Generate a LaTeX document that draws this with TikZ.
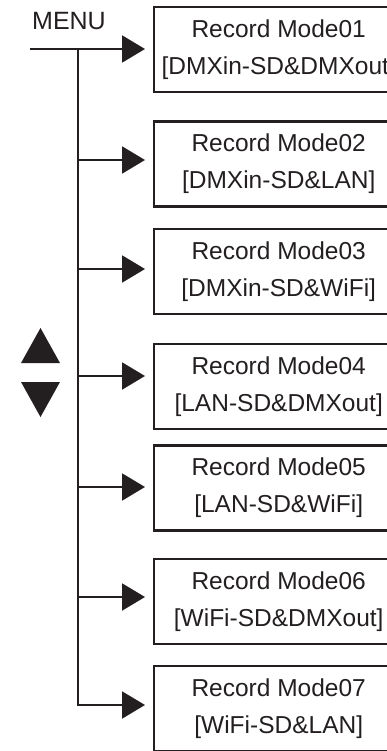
\documentclass[tikz,border=0pt]{standalone}
\usepackage{fontspec}
\setmainfont{Liberation Sans}
\usetikzlibrary{arrows.meta}
\definecolor{ink}{HTML}{231F20}

\begin{document}
\begin{tikzpicture}
        [
            x = 1pt, y = -1pt,
            > = {Triangle[length=23pt,width=27pt]},
            line width = 2pt,
            mode/.style = {
                draw=ink, rectangle, line width=2.4pt, anchor=west,
                minimum width=249pt, minimum height=85pt, inner sep=0pt,
                align=center, text=ink, font=\fontsize{24.5}{37}\selectfont},
            menu/.style = {text=ink, font=\fontsize{25}{30}\selectfont, anchor=base},
            link/.style = {draw=ink, ->, shorten >=8pt}
        ]
        \useasboundingbox (0,0) rectangle (386,751);
        \node [mode] (Mode01) at (153,49.5) {Record Mode01\\{[}DMXin-SD\&DMXout]};
        \node [mode] (Mode02) at (153,164) {Record Mode02\\{[}DMXin-SD\&LAN]};
        \node [mode] (Mode03) at (153,271.5) {Record Mode03\\{[}DMXin-SD\&WiFi]};
        \node [mode] (Mode04) at (153,386.5) {Record Mode04\\{[}LAN-SD\&DMXout]};
        \node [mode] (Mode05) at (153,488) {Record Mode05\\{[}LAN-SD\&WiFi]};
        \node [mode] (Mode06) at (153,601.5) {Record Mode06\\{[}WiFi-SD\&DMXout]};
        \node [mode] (Mode07) at (153,708.5) {Record Mode07\\{[}WiFi-SD\&LAN]};
        \node [menu] (Menu) at (69,30) {MENU};
        % branch points on the trunk
        \coordinate (start) at (30,49);
        \coordinate (j1) at (78,49);
        \coordinate (j2) at (78,160);
        \coordinate (j3) at (78,269);
        \coordinate (j4) at (78,376);
        \coordinate (j5) at (78,487);
        \coordinate (j6) at (78,597);
        \coordinate (j7) at (78,705);
        \draw [link] (start) -- (Mode01.west |- start);
        \draw [link] (j2) -- (Mode02.west |- j2);
        \draw [link] (j3) -- (Mode03.west |- j3);
        \draw [link] (j4) -- (Mode04.west |- j4);
        \draw [link] (j5) -- (Mode05.west |- j5);
        \draw [link] (j6) -- (Mode06.west |- j6);
        \draw [link] (j1) -- (j7) -- (Mode07.west |- j7);
        % up / down keys
        \fill [ink] (21,363) -- (40.5,328) -- (60,363) -- cycle;
        \fill [ink] (21,382) -- (40.5,417) -- (60,382) -- cycle;
    \end{tikzpicture}
\end{document}
